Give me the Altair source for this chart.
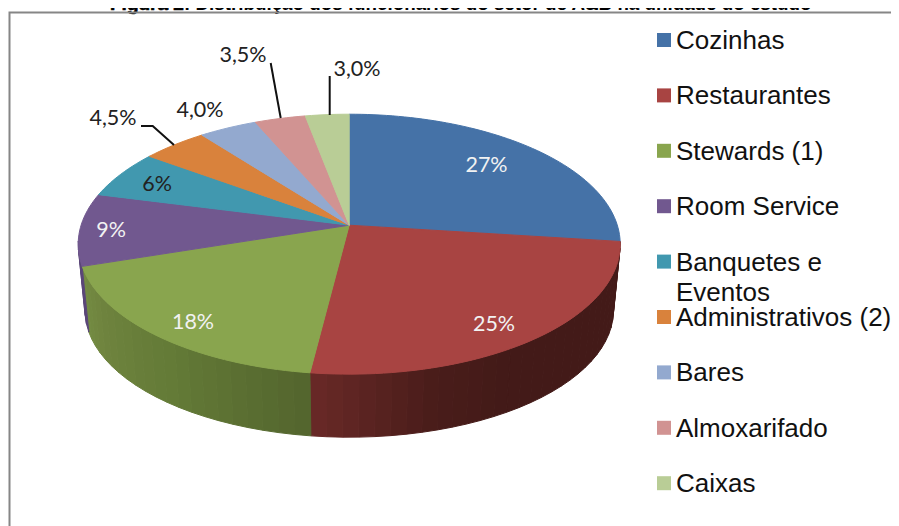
import math
import altair as alt
import pandas as pd

# ---- values ----
CATEGORIES = ["Cozinhas", "Restaurantes", "Stewards (1)", "Room Service", "Banquetes e Eventos",
              "Administrativos (2)", "Bares", "Almoxarifado", "Caixas"]
SHARES = [27, 25, 18, 9, 6, 4.5, 4, 3.5, 3]
LABELS = ["27%", "25%", "18%", "9%", "6%", "4,5%", "4,0%", "3,5%", "3,0%"]
COLORS = ["#4572A7", "#A84442", "#89A54E", "#71588F", "#4198AF", "#D9823C", "#93A9CF", "#D19392", "#B9CD96"]
TITLE_A = "Figura 2"
TITLE_B = ": Distribuição dos funcionários do setor de A&B na unidade do estudo"

# ---- layout ----
LABEL_XY = [(486.5, 166), (494, 325), (193, 323), (111, 231), (157, 185), (113, 119), (200, 111), (243, 56), (357, 70)]
LABEL_COL = ["#f2f2f2", "#f2f2f2", "#f2f2f2", "#f2f2f2", "#222222", "#222222", "#222222", "#222222", "#222222"]
LEADERS = [[(141, 126), (152.7, 126), (174, 145)], [(270.7, 63), (280.7, 118)], [(329.7, 76), (329.7, 115)]]
LEGEND_TOP, LEGEND_STEP = 41, 55.4
WALL_STOPS = {  # colour of the side wall along its arc, for the slices facing the viewer
    1: [(97.2, "#431A18"), (150, "#431A18"), (165, "#4A1D1A"), (187.2, "#692927")],
    2: [(187.2, "#53652E"), (215, "#637A37"), (240, "#6F843F"), (252, "#748C43")],
    3: [(252, "#5A4678"), (263, "#5A4678")],
}


def top_pt(t):
    a = math.radians(t)
    u, v = math.sin(a), -math.cos(a)
    w = 1 - 0.146 * v
    return 349.2 + 268.1 * u / w, 225.2 + 127.2 * v / w


def low_pt(t):
    a = math.radians(t)
    u, v = math.sin(a), -math.cos(a)
    w = 1 - 0.146 * v
    return 349.2 + 261.4 * u / w, 292.0 + 124.0 * v / w


def mix(stops, t):
    for (a, c1), (b, c2) in zip(stops, stops[1:]):
        if a <= t <= b:
            f = (t - a) / (b - a) if b > a else 0
            p = [int(c1[i:i + 2], 16) for i in (1, 3, 5)]
            q = [int(c2[i:i + 2], 16) for i in (1, 3, 5)]
            return "#%02x%02x%02x" % tuple(round(x + (y - x) * f) for x, y in zip(p, q))
    return stops[-1][1]


# build polygons from the shares
faces, walls = [], []
acc = 0.0
for i, s in enumerate(SHARES):
    t0, t1 = acc * 3.6, (acc + s) * 3.6
    acc += s
    n = max(4, int((t1 - t0) / 1.5))
    pts = [(349.2, 225.2)] + [top_pt(t0 + (t1 - t0) * k / n) for k in range(n + 1)]
    for o, (x, y) in enumerate(pts):
        faces.append(dict(id=f"f{i}", o=o, x=x, y=y, c=COLORS[i]))
    if i in WALL_STOPS:
        end = min(t1, 263.0)
        m = max(2, int((end - t0) / 3))
        for k in range(m):
            a = t0 + (end - t0) * k / m
            b = t0 + (end - t0) * (k + 1) / m
            col = mix(WALL_STOPS[i], (a + b) / 2)
            ring = [top_pt(a), top_pt(b), low_pt(b), low_pt(a)]
            for o, (x, y) in enumerate(ring):
                walls.append(dict(id=f"w{i}_{k}", o=o, x=x, y=y, c=col))

X = alt.X("x:Q", scale=alt.Scale(domain=[8, 891], range=[0, 883], nice=False, zero=False), axis=None)
Y = alt.Y("y:Q", scale=alt.Scale(domain=[8, 526], range=[0, 518], nice=False, zero=False), axis=None)


def polys(rows):
    return alt.Chart(pd.DataFrame(rows)).mark_line(strokeWidth=1.0, interpolate="linear-closed").encode(
        x=X, y=Y, order="o:Q", detail="id:N",
        fill=alt.Fill("c:N", scale=None), stroke=alt.Stroke("c:N", scale=None))


frame = alt.Chart(pd.DataFrame([dict(id="a", o=0, x=9.5, y=526), dict(id="a", o=1, x=9.5, y=12.5),
                                dict(id="a", o=2, x=899, y=12.5)])).mark_line(
    color="#868686", strokeWidth=2).encode(x=X, y=Y, order="o:Q")

leader_rows = [dict(id=i, o=o, x=p[0], y=p[1]) for i, l in enumerate(LEADERS) for o, p in enumerate(l)]
leaders = alt.Chart(pd.DataFrame(leader_rows)).mark_line(color="#111111", strokeWidth=2).encode(
    x=X, y=Y, order="o:Q", detail="id:N")

labels = alt.Chart(pd.DataFrame([dict(x=p[0], y=p[1], t=t, c=c) for p, t, c in zip(LABEL_XY, LABELS, LABEL_COL)])).mark_text(
    font="Lato", fontSize=21.5, align="center", baseline="middle").encode(
    x=X, y=Y, text="t:N", color=alt.Color("c:N", scale=None))

swatches = alt.Chart(pd.DataFrame([dict(x=664, y=LEGEND_TOP - 1 + i * LEGEND_STEP, c=c) for i, c in enumerate(COLORS)])).mark_point(
    shape="square", filled=True, size=196, opacity=1).encode(x=X, y=Y, color=alt.Color("c:N", scale=None))

legend_rows = []
for i, name in enumerate(CATEGORIES):
    yy = LEGEND_TOP + i * LEGEND_STEP
    if name == "Banquetes e Eventos":
        legend_rows += [dict(x=676, y=yy, t="Banquetes e"), dict(x=676, y=yy + 30, t="Eventos")]
    else:
        legend_rows.append(dict(x=676, y=yy, t=name))
legend_text = alt.Chart(pd.DataFrame(legend_rows)).mark_text(
    font="Liberation Sans", fontSize=26, align="left", baseline="middle", color="#111111").encode(x=X, y=Y, text="t:N")

# The page margin clips anything above the drawing, so the clipped title sits as high as it can while still showing.
title_a = alt.Chart(pd.DataFrame([dict(x=110, y=10, t=TITLE_A)])).mark_text(
    font="Liberation Sans", fontWeight="bold", fontSize=19, align="left", baseline="alphabetic", color="#000000",
    stroke="#000000", strokeWidth=0.6).encode(x=X, y=Y, text="t:N")
title_b = alt.Chart(pd.DataFrame([dict(x=184, y=10, t=TITLE_B)])).mark_text(
    font="Liberation Sans", fontWeight="bold", fontSize=18.8, align="left", baseline="alphabetic", color="#000000").encode(
    x=X, y=Y, text="t:N")

chart = alt.layer(title_a, title_b, frame, polys(walls), polys(faces), leaders, labels, swatches, legend_text).properties(
    width=883, height=518, padding=0, autosize=alt.AutoSizeParams(type="none"),
).configure_view(stroke=None)

chart.save("out.html", embed_options={"renderer": "svg", "actions": False})
